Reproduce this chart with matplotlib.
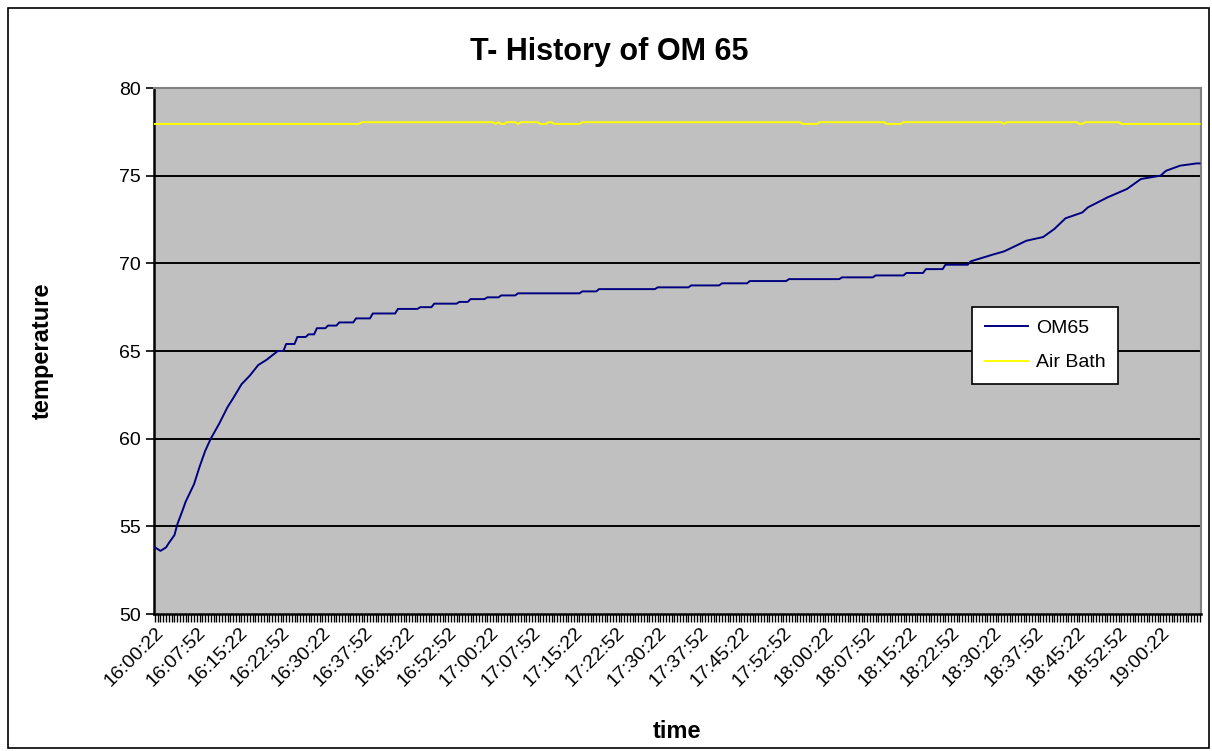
import numpy as np
import matplotlib
matplotlib.use("Agg")
import matplotlib.pyplot as plt
from matplotlib.patches import Rectangle

# ---------------- CONFIG ----------------
FONT = "Liberation Sans"
PLOT_BG = "#C0C0C0"
N_SAMPLES = 375          # one reading every 30 s, 16:00:22 .. 19:07:22
LABEL_EVERY = 15         # a time label every 7.5 min

# --------------- DATA -------------------
# sample number (30 s steps) and OM65 reading
om65_sample = [0, 2, 4, 5, 7, 8, 10, 11, 14, 16, 18, 20, 23, 26, 28, 31, 34, 37,
               40, 44, 46, 47, 50, 51, 54, 55, 57, 58, 61, 62, 65, 66, 71, 72,
               77, 78, 86, 87, 94, 95, 99, 100, 108, 109, 112, 113, 118, 119,
               123, 124, 129, 130, 152, 153, 158, 159, 179, 180, 191, 192, 202,
               203, 212, 213, 226, 227, 245, 246, 257, 258, 268, 269, 275, 276,
               282, 283, 291, 292, 300, 304, 312, 318, 322, 326, 332, 334, 341,
               348, 353, 360, 362, 367, 373, 374]
om65_temp = [53.8, 53.6, 53.8, 54.05, 54.5, 55.1, 55.95, 56.4, 57.4, 58.4, 59.3,
             60.0, 60.85, 61.8, 62.3, 63.1, 63.6, 64.2, 64.5, 65.0, 65.0, 65.4,
             65.4, 65.8, 65.8, 65.95, 65.95, 66.3, 66.3, 66.45, 66.45, 66.63,
             66.63, 66.86, 66.86, 67.14, 67.14, 67.4, 67.4, 67.5, 67.5, 67.7,
             67.7, 67.8, 67.8, 67.96, 67.96, 68.06, 68.06, 68.17, 68.17, 68.29,
             68.29, 68.4, 68.4, 68.53, 68.53, 68.63, 68.63, 68.74, 68.74, 68.86,
             68.86, 68.99, 68.99, 69.1, 69.1, 69.2, 69.2, 69.31, 69.31, 69.45,
             69.45, 69.67, 69.67, 69.92, 69.92, 70.11, 70.5, 70.68, 71.29, 71.5,
             71.96, 72.57, 72.9, 73.19, 73.76, 74.24, 74.81, 75.0, 75.28, 75.57,
             75.7, 75.7]

air_sample = [0, 73, 74, 121, 122, 123, 124, 125, 126, 129, 130, 131, 137, 138,
              140, 141, 142, 143, 152, 153, 231, 232, 237, 238, 261, 262, 267,
              268, 303, 304, 305, 330, 331, 332, 333, 345, 346, 374]
air_temp = [77.95, 77.95, 78.05, 78.05, 77.95, 78.05, 77.95, 77.95, 78.05, 78.05,
            77.95, 78.05, 78.05, 77.95, 77.95, 78.05, 78.05, 77.95, 77.95, 78.05,
            78.05, 77.95, 77.95, 78.05, 78.05, 77.95, 77.95, 78.05, 78.05, 77.95,
            78.05, 78.05, 77.95, 77.95, 78.05, 78.05, 77.95, 77.95]

time_labels = ["16:00:22", "16:07:52", "16:15:22", "16:22:52", "16:30:22",
               "16:37:52", "16:45:22", "16:52:52", "17:00:22", "17:07:52",
               "17:15:22", "17:22:52", "17:30:22", "17:37:52", "17:45:22",
               "17:52:52", "18:00:22", "18:07:52", "18:15:22", "18:22:52",
               "18:30:22", "18:37:52", "18:45:22", "18:52:52", "19:00:22"]

# --------------- PLOT -------------------
plt.rcParams["font.family"] = [FONT, "DejaVu Sans"]

fig = plt.figure(figsize=(12.12, 7.51), dpi=100)
ax = fig.add_axes([153.5 / 1212, 1 - 614 / 751, 1047.5 / 1212, 526 / 751])
ax.set_facecolor(PLOT_BG)

# outer chart border
fig.patches.append(Rectangle((8 / 1212, 3 / 751), 1201 / 1212, 740 / 751,
                             transform=fig.transFigure, fill=False,
                             edgecolor="black", linewidth=1.2))

for v in [55, 60, 65, 70, 75]:
    ax.axhline(v, color="black", linewidth=1.4, zorder=1)

ax.plot(om65_sample, om65_temp, color="#000080", linewidth=1.4,
        label="OM65", zorder=3)
ax.plot(air_sample, air_temp, color="#FFFF00", linewidth=1.4,
        label="Air Bath", zorder=3)

ax.set_xlim(-0.5, N_SAMPLES - 0.5)
ax.set_ylim(50, 80)
ax.set_yticks([50, 55, 60, 65, 70, 75, 80])
ax.tick_params(axis="y", labelsize=14, length=6, width=1.2, direction="out",
               pad=3)

label_pos = [i * LABEL_EVERY for i in range(len(time_labels))]
ax.set_xticks(label_pos)
ax.set_xticklabels(time_labels, rotation=45, ha="right", va="top",
                   rotation_mode="anchor", fontsize=14)
ax.set_xticks(np.arange(N_SAMPLES), minor=True)
ax.tick_params(axis="x", which="both", length=6, width=1.0, direction="out",
               pad=1)

for side in ["top", "right"]:
    ax.spines[side].set_color("#808080")
    ax.spines[side].set_linewidth(1.5)
for side in ["left", "bottom"]:
    ax.spines[side].set_color("black")
    ax.spines[side].set_linewidth(1.8)

fig.text(0.503, 1 - 52 / 751, "T- History of OM 65", ha="center", va="center",
         fontsize=22, fontweight="bold")
ax.set_ylabel("temperature", fontsize=17, fontweight="bold", labelpad=47)
ax.set_xlabel("time", fontsize=17, fontweight="bold", labelpad=22)

leg = ax.legend(loc="upper left", bbox_to_anchor=(0.7814, 0.5837), fontsize=14,
                frameon=True, fancybox=False, edgecolor="black",
                borderaxespad=0, handlelength=2.25, handletextpad=0.4,
                borderpad=0.65, labelspacing=0.85)
leg.get_frame().set_linewidth(1.2)
leg.get_frame().set_facecolor("white")
leg.get_frame().set_alpha(1)

fig.savefig("out.png", dpi=100)
